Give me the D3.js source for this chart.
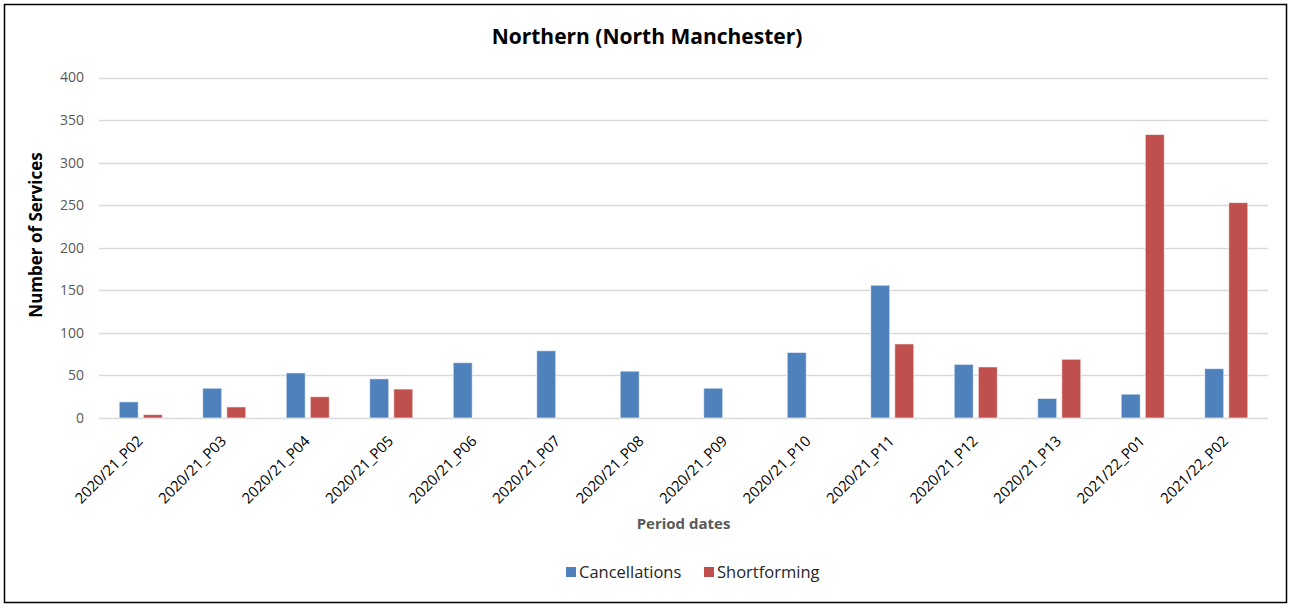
<!DOCTYPE html>
<html><head><meta charset="utf-8">
<script src="https://cdn.jsdelivr.net/npm/d3@7"></script>
<style>
body{margin:0;background:#fff;}
svg{display:block;font-family:"Open Sans","Noto Sans",sans-serif;}
</style></head>
<body><svg id="c" width="1290" height="606"></svg>
<script>
const categories = ["2020/21_P02","2020/21_P03","2020/21_P04","2020/21_P05","2020/21_P06","2020/21_P07","2020/21_P08","2020/21_P09","2020/21_P10","2020/21_P11","2020/21_P12","2020/21_P13","2021/22_P01","2021/22_P02"];
const cancellations = [19,35,53,46,65,79,55,35,77,156,63,23,28,58];
const shortforming = [4,13,25,34,0,0,0,0,0,87,60,69,333,253];
const seriesNames = ["Cancellations","Shortforming"];
const seriesColors = ["#4F81BD","#C0504D"];
const yTicks = [0,50,100,150,200,250,300,350,400];

const svg = d3.select("#c");
svg.append("rect").attr("x",4.5).attr("y",4.5).attr("width",1282).attr("height",598)
  .attr("fill","#fff").attr("stroke","#000").attr("stroke-width",1.5);

const m = {left:99, right:1268, top:77.5, bottom:418};
const x = d3.scaleBand().domain(categories).range([m.left,m.right]).padding(0);
const x1 = d3.scaleBand().domain(seriesNames).range([0,x.bandwidth()]).paddingInner(0.21).paddingOuter(0.84);
const y = d3.scaleLinear().domain([0,400]).range([m.bottom,m.top]);

// gridlines
svg.append("g").selectAll("line").data(yTicks).join("line")
  .attr("x1",m.left).attr("x2",m.right)
  .attr("y1",d=>Math.round(y(d))+0.5).attr("y2",d=>Math.round(y(d))+0.5)
  .attr("stroke","#D9D9D9").attr("stroke-width",1.5);

// y axis labels
const yAxis = d3.axisLeft(y).tickValues(yTicks).tickSize(0).tickPadding(15);
const ya = svg.append("g").attr("transform",`translate(${m.left},0)`).call(yAxis);
ya.select(".domain").remove();
ya.selectAll("text").attr("fill","#595959").style("font-size","14px").style("font-family","'Open Sans',sans-serif");

// bars
const data = categories.map((c,i)=>({c, vals:[cancellations[i],shortforming[i]]}));
const g = svg.append("g");
g.selectAll("g").data(data).join("g")
  .attr("transform",d=>`translate(${x(d.c)},0)`)
  .selectAll("rect").data(d=>d.vals.map((v,j)=>({v,s:seriesNames[j],col:seriesColors[j]})))
  .join("rect")
  .attr("x",d=>x1(d.s)).attr("width",x1.bandwidth())
  .attr("y",d=>y(d.v)).attr("height",d=>y(0)-y(d.v))
  .attr("fill",d=>d.col).attr("stroke",d=>d.v>0?"rgba(255,255,255,0.6)":"none").attr("stroke-width",1);

// x labels
const xa = svg.append("g");
xa.selectAll("text").data(categories).join("text")
  .attr("transform",d=>`translate(${x(d)+x.bandwidth()/2+3},${442}) rotate(-45)`)
  .attr("text-anchor","end")
  .attr("fill","#000").style("font-size","14.8px")
  .text(d=>d);

// title
svg.append("text").attr("x",647).attr("y",44).attr("text-anchor","middle")
  .style("font-size","21px").style("font-weight","bold").attr("fill","#000")
  .text("Northern (North Manchester)");

// y title
svg.append("text").attr("transform","translate(42,235) rotate(-90)").attr("text-anchor","middle")
  .style("font-size","17px").style("font-weight","bold").attr("fill","#000")
  .text("Number of Services");

// x title
svg.append("text").attr("x",(m.left+m.right)/2).attr("y",529).attr("text-anchor","middle")
  .style("font-size","15px").style("font-weight","bold").attr("fill","#595959")
  .text("Period dates");

// legend
const leg = svg.append("g");
const legX = [566,704];
seriesNames.forEach((s,i)=>{
  leg.append("rect").attr("x",legX[i]).attr("y",567).attr("width",10).attr("height",10).attr("fill",seriesColors[i]);
  leg.append("text").attr("x",legX[i]+13).attr("y",578).style("font-size","16.5px").attr("fill","#262626").text(s);
});
</script></body></html>
